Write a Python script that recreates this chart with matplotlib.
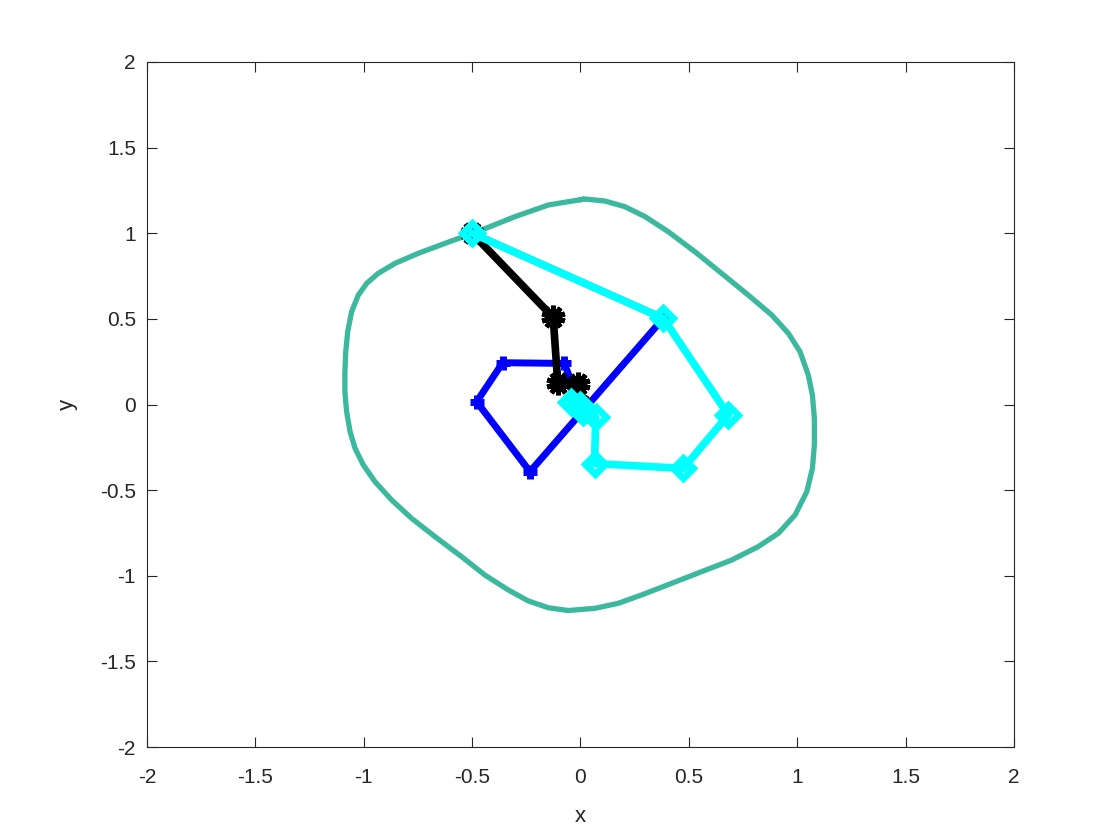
import matplotlib.pyplot as plt

plt.rcParams['font.family'] = ['Liberation Sans', 'DejaVu Sans']
plt.rcParams['axes.unicode_minus'] = False

# closed level curve (counter-clockwise from the top)
curve_x = [0.005, -0.148, -0.302, -0.456, -0.625, -0.748, -0.856, -0.933, -0.986,
           -1.025, -1.056, -1.074, -1.083, -1.087, -1.087, -1.079, -1.063, -1.040,
           -1.002, -0.948, -0.871, -0.779, -0.671, -0.548, -0.441, -0.333, -0.241,
           -0.148, -0.056, 0.067, 0.174, 0.282, 0.421, 0.559, 0.698, 0.820, 0.913,
           0.990, 1.044, 1.070, 1.079, 1.079, 1.070, 1.051, 1.013, 0.959, 0.882,
           0.774, 0.651, 0.528, 0.405, 0.298, 0.205, 0.113, 0.021, 0.005]
curve_y = [1.197, 1.165, 1.097, 1.019, 0.941, 0.883, 0.824, 0.766, 0.708,
           0.639, 0.542, 0.425, 0.308, 0.192, 0.075, -0.042, -0.159, -0.256,
           -0.353, -0.451, -0.558, -0.665, -0.772, -0.889, -0.996, -1.083, -1.147,
           -1.187, -1.203, -1.190, -1.161, -1.112, -1.044, -0.976, -0.908, -0.830, -0.752,
           -0.645, -0.509, -0.373, -0.236, -0.081, 0.055, 0.172, 0.308, 0.416, 0.523,
           0.639, 0.766, 0.892, 1.009, 1.097, 1.155, 1.188, 1.200, 1.197]

# iterate paths
blue_x = [-0.5, 0.382, -0.233, -0.479, -0.359, -0.075, 0.0]
blue_y = [1.0, 0.503, -0.392, 0.016, 0.244, 0.240, 0.0]

black_x = [-0.5, -0.126, -0.105, -0.010, 0.0]
black_y = [1.0, 0.509, 0.125, 0.118, 0.0]

cyan_x = [-0.5, 0.382, 0.682, 0.474, 0.065, 0.070, 0.013, -0.044, 0.0]
cyan_y = [1.0, 0.503, -0.061, -0.373, -0.345, -0.075, -0.042, 0.016, 0.0]

ticks = [-2, -1.5, -1, -0.5, 0, 0.5, 1, 1.5, 2]

fig = plt.figure(figsize=(11.2, 8.4), dpi=100)
ax = fig.add_axes([0.13125, 0.1107, 0.7741, 0.8155])

ax.plot(curve_x, curve_y, color='#3bb89d', lw=3.8, solid_joinstyle='round')
ax.plot(blue_x, blue_y, color='blue', lw=5, marker='+', ms=10, mew=5)
ax.plot(black_x, black_y, color='black', lw=5.5, marker=(10, 2, 0), ms=17, mew=3.5)
ax.plot(cyan_x, cyan_y, color='cyan', lw=5.5, marker='D', ms=10, mew=5,
        markerfacecolor='none')

ax.set_xlim(-2, 2)
ax.set_ylim(-2, 2)
ax.set_xticks(ticks)
ax.set_yticks(ticks)
fmt = lambda v, p: ('%g' % v)
ax.xaxis.set_major_formatter(plt.FuncFormatter(fmt))
ax.yaxis.set_major_formatter(plt.FuncFormatter(fmt))
ax.tick_params(direction='in', top=True, right=True, length=7, width=0.8,
               labelsize=15, colors='#262626')
ax.tick_params(axis='x', pad=15)
ax.tick_params(axis='y', pad=8)
for s in ax.spines.values():
    s.set_linewidth(0.8)
    s.set_color('#262626')
ax.set_xlabel('x', fontsize=16, color='#262626', labelpad=14)
ax.set_ylabel('y', fontsize=16, color='#262626', labelpad=16)

fig.savefig('out.png', dpi=100)
